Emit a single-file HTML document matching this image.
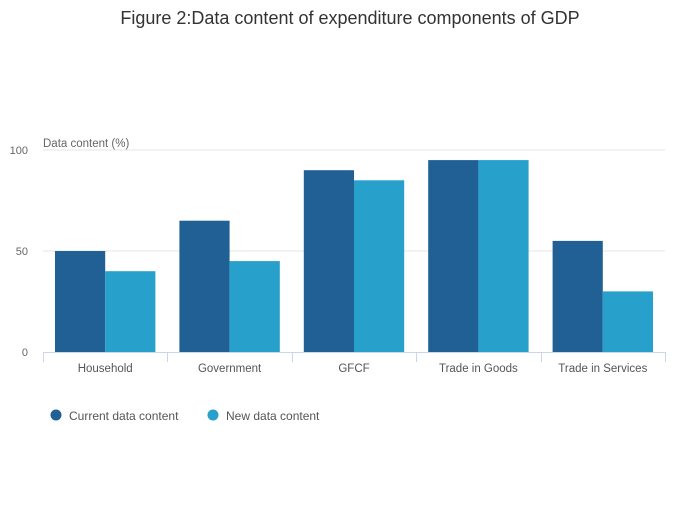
<!DOCTYPE html>
<html><head><meta charset="utf-8"><style>
body{margin:0;background:#fff;font-family:"Liberation Sans",sans-serif;}
svg text{font-family:"Liberation Sans",sans-serif;}
</style></head><body>
<svg id="chart" width="700" height="502" xmlns="http://www.w3.org/2000/svg">
<text x="350" y="24" text-anchor="middle" font-size="18" fill="#333">Figure 2:Data content of expenditure components of GDP</text>
<text x="43" y="147" font-size="11.5" fill="#666">Data content (%)</text>
<g id="grid"></g><g id="bars"></g><g id="axis"></g>
<g>
<circle cx="56" cy="415" r="5.5" fill="#206095"/>
<text x="69" y="420" font-size="12" fill="#555">Current data content</text>
<circle cx="213" cy="415" r="5.5" fill="#27a0cc"/>
<text x="226" y="420" font-size="12" fill="#555">New data content</text>
</g>
</svg>
<script>
const categories=["Household","Government","GFCF","Trade in Goods","Trade in Services"];
const currentValues=[50,65,90,95,55];
const newValues=[40,45,85,95,30];
const yTicks=[0,50,100];
const NS="http://www.w3.org/2000/svg";
const x0=43,x1=665,yTop=150,yBot=352,yMax=100;
const band=(x1-x0)/categories.length;
const y=v=>yBot-(v/yMax)*(yBot-yTop);
function mk(tag,attrs,parent,text){const e=document.createElementNS(NS,tag);for(const k in attrs)e.setAttribute(k,attrs[k]);if(text!==undefined)e.textContent=text;document.getElementById(parent).appendChild(e);return e;}
yTicks.forEach(t=>{
 if(t>0){const l=mk('line',{x1:x0,x2:x1,y1:y(t),y2:y(t),stroke:'#e6e6e6'},'grid');
 
 }
 const tx=mk('text',{x:28,y:y(t)+4,'text-anchor':'end','font-size':11,fill:'#666'},'grid',String(t));
 
 
});
const bw=(band-24)/2;
categories.forEach((c,i)=>{
 const bx=x0+i*band+12;
 const r1=mk('rect',{x:bx,y:y(currentValues[i]),width:bw,height:yBot-y(currentValues[i]),fill:'#206095'},'bars');
 
 
 const r2=mk('rect',{x:bx+bw,y:y(newValues[i]),width:bw,height:yBot-y(newValues[i]),fill:'#27a0cc'},'bars');
 
 
 const lb=mk('text',{x:x0+(i+0.5)*band,y:372,'text-anchor':'middle','font-size':11.5,fill:'#555'},'axis',c);
 
 
});
const ax=mk('line',{x1:x0,x2:x1,y1:yBot+0.5,y2:yBot+0.5,stroke:'#ccd6eb'},'axis');


for(let i=0;i<=categories.length;i++){
 const xx=Math.round(x0+i*band)+0.5;
 const tk=mk('line',{x1:xx,x2:xx,y1:yBot,y2:yBot+10,stroke:'#ccd6eb'},'axis');
 
 
}
</script>
</body></html>
